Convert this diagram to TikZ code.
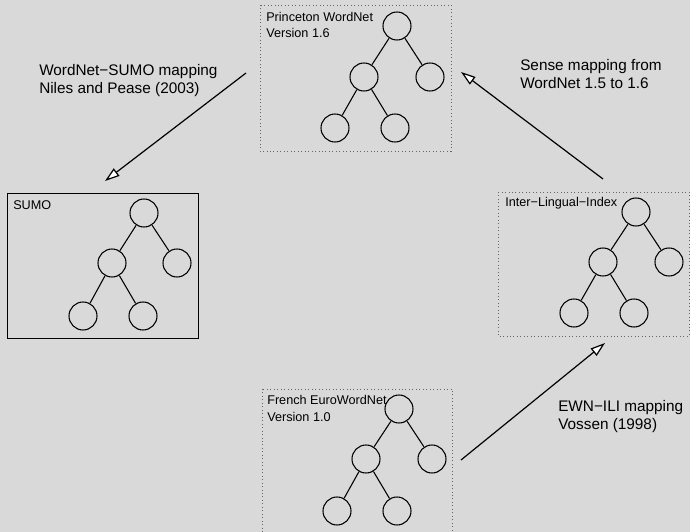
\documentclass[tikz,border=0pt]{standalone}
\usepackage{fontspec}
\setmainfont{Liberation Sans}
\usepackage{tikz}
\usetikzlibrary{arrows.meta}

\definecolor{bggray}{RGB}{217,217,217}

\tikzset{
  leaf/.style={circle, draw, line width=0.8pt, minimum size=21pt, inner sep=0pt},
  branch/.style={line width=0.8pt},
  netbox/.style={draw=black!60, dotted, line width=0.6pt},
  mapping/.style={line width=0.9pt, -{Triangle[length=11pt, width=7pt, fill=white]}},
  boxlabel/.style={anchor=west, inner sep=0pt, align=left, font=\fontsize{9.5}{12.5}\selectfont},
  maplabel/.style={anchor=west, inner sep=0pt, align=left, font=\fontsize{11.5}{13.5}\selectfont}
}

\begin{document}
\begin{tikzpicture}[x=0.75pt,y=0.75pt,yscale=-1,xscale=1]
%set diagram left start at 0, and has height of 532
\fill [bggray] (0,0) rectangle (690,532);
\useasboundingbox (0,0) rectangle (690,532);
\clip (0,0) rectangle (690,532);

%Boxes
\draw [netbox] (260,5) rectangle (451,151);
\draw [line width=0.75pt] (7,193) rectangle (198,338);
\draw [netbox] (498,192) rectangle (689,336);
\draw [netbox] (262,389) rectangle (452,545);

% Text Node
\node [boxlabel] (pwnlabel) at (266,25) {Princeton WordNet\\Version 1.6};
% Text Node
\node [boxlabel] (sumolabel) at (13,205) {SUMO};
% Text Node
\node [boxlabel] (ililabel) at (505,203) {Inter−Lingual−Index};
% Text Node
\node [boxlabel] (ewnlabel) at (267,408.5) {French EuroWordNet\\Version 1.0};

%Tree Princeton WordNet
\node [leaf] (pwnA) at (397,26) {};
\node [leaf] (pwnB) at (364,77) {};
\node [leaf] (pwnC) at (430,77) {};
\node [leaf] (pwnD) at (335,128) {};
\node [leaf] (pwnE) at (395,128) {};
\draw [branch] (pwnA) -- (pwnB);
\draw [branch] (pwnA) -- (pwnC);
\draw [branch] (pwnB) -- (pwnD);
\draw [branch] (pwnB) -- (pwnE);

%Tree SUMO
\node [leaf] (sumoA) at (144,213) {};
\node [leaf] (sumoB) at (112,263) {};
\node [leaf] (sumoC) at (177,263) {};
\node [leaf] (sumoD) at (83,316) {};
\node [leaf] (sumoE) at (143,316) {};
\draw [branch] (sumoA) -- (sumoB);
\draw [branch] (sumoA) -- (sumoC);
\draw [branch] (sumoB) -- (sumoD);
\draw [branch] (sumoB) -- (sumoE);

%Tree Inter-Lingual-Index
\node [leaf] (iliA) at (636,212) {};
\node [leaf] (iliB) at (603,262) {};
\node [leaf] (iliC) at (669,262) {};
\node [leaf] (iliD) at (574,313) {};
\node [leaf] (iliE) at (634,313) {};
\draw [branch] (iliA) -- (iliB);
\draw [branch] (iliA) -- (iliC);
\draw [branch] (iliB) -- (iliD);
\draw [branch] (iliB) -- (iliE);

%Tree French EuroWordNet
\node [leaf] (ewnA) at (399,409) {};
\node [leaf] (ewnB) at (366,459) {};
\node [leaf] (ewnC) at (432,459) {};
\node [leaf] (ewnD) at (337,511) {};
\node [leaf] (ewnE) at (397,511) {};
\draw [branch] (ewnA) -- (ewnB);
\draw [branch] (ewnA) -- (ewnC);
\draw [branch] (ewnB) -- (ewnD);
\draw [branch] (ewnB) -- (ewnE);

%Mapping arrows
\coordinate (pwnout) at (246,73);
\coordinate (sumoin) at (105,181);
\coordinate (iliout) at (603,179);
\coordinate (pwnin) at (461,72);
\coordinate (ewnout) at (461,460);
\coordinate (iliin) at (605,343);
\draw [mapping] (pwnout) -- (sumoin);
\draw [mapping] (iliout) -- (pwnin);
\draw [mapping] (ewnout) -- (iliin);

% Text Node
\node [maplabel] (sumomap) at (39,81) {WordNet−SUMO mapping\\Niles and Pease (2003)};
% Text Node
\node [maplabel] (sensemap) at (520,74.5) {Sense mapping from\\WordNet 1.5 to 1.6};
% Text Node
\node [maplabel] (ilimap) at (558,417) {EWN−ILI mapping\\Vossen (1998)};
\end{tikzpicture}
\end{document}
